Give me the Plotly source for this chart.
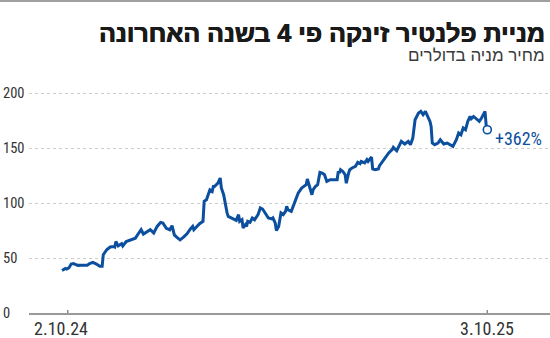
import pandas as pd
import plotly.graph_objects as go

# ---------------- data ----------------
start_date = "2024-10-02"
day_offsets = [
    -5, -2, -1, 1, 3, 5, 6, 9, 12, 17,
    19, 22, 25, 28, 30, 31, 34, 37, 40, 41,
    42, 44, 47, 48, 51, 56, 59, 62, 64, 66,
    69, 72, 75, 78, 81, 83, 86, 89, 91, 93,
    95, 98, 101, 104, 107, 109, 110, 113, 115, 118,
    119, 121, 123, 124, 126, 127, 128, 130, 131, 133,
    134, 136, 137, 139, 140, 143, 145, 147, 149, 150,
    152, 153, 155, 156, 157, 159, 161, 163, 166, 168,
    170, 172, 175, 178, 179, 181, 182, 184, 185, 186,
    188, 190, 191, 192, 195, 198, 201, 204, 206, 208,
    209, 211, 213, 214, 216, 218, 220, 222, 224, 226,
    229, 232, 235, 236, 237, 238, 240, 242, 243, 245,
    246, 248, 251, 253, 255, 256, 259, 261, 262, 265,
    266, 268, 271, 272, 277, 280, 283, 284, 287, 291,
    294, 297, 299, 301, 303, 306, 308, 310, 312, 314,
    316, 317, 318, 320, 323, 325, 328, 331, 333, 336,
    339, 341, 343, 345, 347, 349, 351, 352, 354, 357,
    359, 361, 364, 365, 366,
]
prices = [
    38.7, 40.5, 40.0, 41.0, 44.5, 45.0, 44.5, 43.3, 43.5, 43.5,
    44.8, 46.0, 44.5, 42.4, 42.4, 53.0, 57.5, 60.0, 60.5, 60.0,
    65.0, 61.0, 63.0, 61.0, 65.0, 67.0, 68.0, 72.7, 75.7, 71.8,
    74.0, 75.7, 72.7, 78.7, 82.4, 81.8, 77.0, 75.7, 79.4, 71.0,
    69.0, 66.5, 69.0, 72.0, 76.4, 78.7, 75.7, 79.4, 81.2, 83.3,
    101.5, 103.0, 109.0, 112.0, 110.5, 115.0, 115.0, 116.6, 118.0, 122.7,
    113.6, 107.5, 101.5, 91.0, 87.8, 86.4, 84.8, 84.2, 89.4, 83.3,
    84.8, 77.3, 80.3, 78.8, 83.3, 82.4, 86.4, 84.8, 89.4, 95.5,
    94.5, 91.0, 86.4, 85.5, 86.4, 81.8, 75.0, 78.7, 84.8, 91.0,
    89.4, 92.4, 97.0, 94.0, 92.4, 100.0, 109.0, 113.6, 115.0, 116.6,
    121.8, 115.0, 107.5, 112.0, 115.0, 116.6, 127.8, 127.2, 125.7, 119.6,
    121.2, 121.2, 121.2, 128.7, 127.2, 130.3, 128.7, 125.7, 118.0, 127.2,
    130.3, 131.8, 133.3, 136.9, 135.7, 137.8, 136.4, 139.4, 137.8, 141.8,
    131.0, 130.3, 131.0, 134.0, 141.0, 145.5, 148.5, 150.6, 147.5, 156.0,
    153.6, 156.0, 153.0, 159.0, 175.7, 181.8, 183.3, 180.3, 183.3, 178.7,
    174.2, 169.6, 154.5, 153.0, 154.5, 157.5, 153.6, 154.5, 153.0, 151.5,
    157.5, 163.6, 162.0, 168.2, 166.6, 174.2, 178.7, 176.6, 178.7, 175.7,
    174.2, 177.3, 183.3, 171.0, 166.6,
]
y_ticks = [0, 50, 100, 150, 200]
x_tick_dates = ["2024-10-02", "2025-10-03"]
x_tick_labels = ["2.10.24", "3.10.25"]
change_label = "+362%"
title_text = "מניית פלנטיר זינקה פי 4 בשנה האחרונה"
subtitle_text = "מחיר מניה בדולרים"

# ---------------- style ----------------
W, H = 550, 338
M_L, M_R, M_T, M_B = 29, 0, 80, 25
PLOT_W = W - M_L - M_R
PLOT_H = H - M_T - M_B
BLUE = "#0b4f9e"
TEXT = "#333333"
NUM_FONT = "Roboto Condensed, DejaVu Sans Condensed, sans-serif"
HEB_FONT = "Liberation Sans, Arial, sans-serif"

start = pd.Timestamp(start_date)
dates = start + pd.to_timedelta(day_offsets, unit="D")
x_range = [start + pd.Timedelta(days=-33.8), start + pd.Timedelta(days=420.7)]
y_range = [0, PLOT_H / 1.1]

fig = go.Figure()
fig.add_trace(go.Scatter(
    x=dates, y=prices, mode="lines",
    line=dict(color=BLUE, width=3), hoverinfo="skip", showlegend=False,
))
fig.add_trace(go.Scatter(
    x=[dates[-1]], y=[prices[-1]], mode="markers",
    marker=dict(size=8, color="white", line=dict(color=BLUE, width=1.6)),
    hoverinfo="skip", showlegend=False,
))

annotations = []
for v in y_ticks:
    annotations.append(dict(
        x=0, xref="paper", xanchor="left", xshift=-M_L + 1,
        y=v, yref="y", yanchor="middle",
        text=str(v), showarrow=False,
        font=dict(family=NUM_FONT, size=14.5, color=TEXT),
    ))
for i, (d, lab) in enumerate(zip(x_tick_dates, x_tick_labels)):
    annotations.append(dict(
        x=d, xref="x", xanchor="center", xshift=-7 if i == 0 else 0,
        y=0, yref="y", yanchor="top", yshift=-4, borderpad=0,
        text=lab, showarrow=False,
        font=dict(family=NUM_FONT, size=18, color=TEXT),
    ))
annotations.append(dict(
    x=dates[-1], xref="x", xanchor="left", xshift=6,
    y=prices[-1], yref="y", yanchor="middle", yshift=-9,
    text=change_label, showarrow=False,
    font=dict(family=NUM_FONT, size=18, color=BLUE),
))
annotations.append(dict(
    x=1, xref="paper", xanchor="right", xshift=-3,
    y=1, yref="paper", yanchor="middle", yshift=25,
    text=subtitle_text, showarrow=False,
    font=dict(family=HEB_FONT, size=17, color="#3a3a3a"),
))

shapes = [dict(
    type="line", xref="paper", yref="paper",
    x0=-M_L / PLOT_W, x1=1 + M_R / PLOT_W,
    y0=1 + (M_T - 1) / PLOT_H, y1=1 + (M_T - 1) / PLOT_H,
    line=dict(color="#a0a0a0", width=2),
)]
for d in x_tick_dates:
    shapes.append(dict(
        type="line", xref="x", yref="y", ysizemode="pixel", yanchor=0,
        x0=d, x1=d, y0=-3, y1=3,
        line=dict(color="#8a8a8a", width=1.5),
    ))

fig.update_layout(
    width=W, height=H,
    margin=dict(l=M_L, r=M_R, t=M_T, b=M_B),
    paper_bgcolor="white", plot_bgcolor="white",
    title=dict(
        text=title_text, xref="container", x=545 / W, xanchor="right",
        yref="container", y=1 - 24 / H, yanchor="top",
        font=dict(family=HEB_FONT, size=25, color="#1a1a1a", weight="bold",
                  shadow="0.5px 0 0 #1a1a1a, -0.3px 0 0 #1a1a1a"),
    ),
    xaxis=dict(
        type="date", range=x_range, showgrid=False, showticklabels=False,
        showline=True, linecolor="#9a9a9a", linewidth=1.5, ticks="",
        zeroline=False, fixedrange=True,
    ),
    yaxis=dict(
        range=y_range, tickvals=y_ticks, showticklabels=False,
        showgrid=True, gridcolor="#cccccc", griddash="dot", gridwidth=1,
        zeroline=False, showline=False, fixedrange=True,
    ),
    annotations=annotations,
    shapes=shapes,
)

fig.write_html("out.html")
